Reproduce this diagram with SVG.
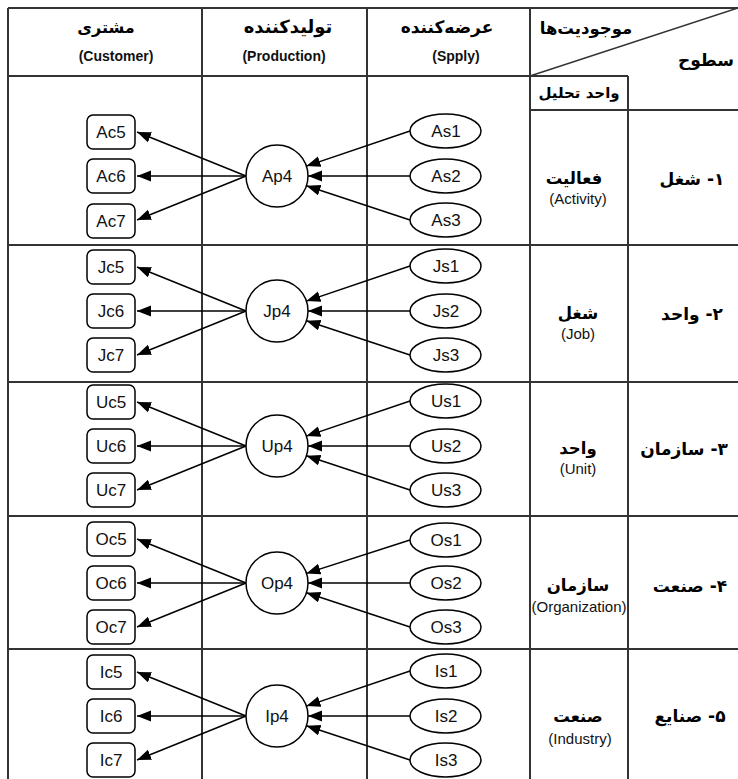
<svg xmlns="http://www.w3.org/2000/svg" width="738" height="779" viewBox="0 0 738 779">
<defs>
<style>
.grid{stroke:#333;stroke-width:2;fill:none}
.box{fill:#fff;stroke:#000;stroke-width:1.5}
.lbl{font-family:"Liberation Sans",Arial,sans-serif;font-size:17px;text-anchor:middle;fill:#111}
.fa{font-family:"DejaVu Sans","Noto Sans",sans-serif;font-weight:bold;text-anchor:middle;fill:#000}
.en{font-family:"Liberation Sans",Arial,sans-serif;text-anchor:middle;fill:#111}
.edge{stroke:#000;stroke-width:1.5;fill:none;marker-end:url(#ah)}
</style>
<marker id="ah" markerUnits="userSpaceOnUse" markerWidth="15" markerHeight="12" refX="14" refY="5.5" orient="auto">
<path d="M0,0 L14,5.5 L0,11 Z" fill="#000"/>
</marker>
</defs>
<rect width="738" height="779" fill="#fff"/>
<g id="table">
<line class="grid" x1="8" y1="8" x2="738" y2="8"/>
<line class="grid" x1="8" y1="8" x2="8" y2="779"/>
<line class="grid" x1="202" y1="8" x2="202" y2="779"/>
<line class="grid" x1="367" y1="8" x2="367" y2="779"/>
<line class="grid" x1="530" y1="8" x2="530" y2="779"/>
<line class="grid" x1="628" y1="76" x2="628" y2="779"/>
<line class="grid" x1="8" y1="76" x2="628" y2="76"/>
<line class="grid" x1="530" y1="110" x2="738" y2="110"/>
<line class="grid" x1="530" y1="76" x2="738" y2="8" style="stroke-width:1.5"/>
<line class="grid" x1="8" y1="245" x2="738" y2="245"/>
<line class="grid" x1="8" y1="382" x2="738" y2="382"/>
<line class="grid" x1="8" y1="516" x2="738" y2="516"/>
<line class="grid" x1="8" y1="649" x2="738" y2="649"/>
</g>
<g id="headers">
<text class="fa" x="106" y="33" font-size="16" direction="rtl">مشتری</text>
<text class="en" x="116" y="61" font-size="14" font-weight="bold">(Customer)</text>
<text class="fa" x="288" y="33" font-size="18" direction="rtl">تولیدکننده</text>
<text class="en" x="284" y="61" font-size="14" font-weight="bold">(Production)</text>
<text class="fa" x="447" y="33" font-size="17" direction="rtl">عرضه‌کننده</text>
<text class="en" x="456" y="61" font-size="14" font-weight="bold">(Spply)</text>
<text class="fa" x="586" y="34" font-size="16.5" direction="rtl">موجودیت‌ها</text>
<text class="fa" x="706" y="66" font-size="17" direction="rtl">سطوح</text>
<text class="fa" x="579" y="98" font-size="15" direction="rtl">واحد تحلیل</text>
</g>
<g id="row-labels">
<text class="fa" x="574" y="184" font-size="16.5" direction="rtl">فعالیت</text>
<text class="en" x="578" y="204" font-size="15">(Activity)</text>
<text class="fa" x="692" y="185" font-size="17" direction="rtl">۱- شغل</text>
<text class="fa" x="578" y="319" font-size="16.5" direction="rtl">شغل</text>
<text class="en" x="578" y="339" font-size="15">(Job)</text>
<text class="fa" x="692" y="320" font-size="17" direction="rtl">۲- واحد</text>
<text class="fa" x="578" y="454" font-size="16.5" direction="rtl">واحد</text>
<text class="en" x="578" y="474" font-size="15">(Unit)</text>
<text class="fa" x="684" y="455" font-size="17" direction="rtl">۳- سازمان</text>
<text class="fa" x="578" y="591" font-size="16.5" direction="rtl">سازمان</text>
<text class="en" x="579" y="612" font-size="15">(Organization)</text>
<text class="fa" x="690" y="592" font-size="17" direction="rtl">۴- صنعت</text>
<text class="fa" x="578" y="722" font-size="16.5" direction="rtl">صنعت</text>
<text class="en" x="580" y="744" font-size="15">(Industry)</text>
<text class="fa" x="690" y="722" font-size="17" direction="rtl">۵- صنایع</text>
</g>
<g id="connectors">
<line class="edge" x1="246" y1="176" x2="137" y2="132"/>
<line class="edge" x1="246" y1="176" x2="137" y2="176"/>
<line class="edge" x1="246" y1="176" x2="137" y2="220"/>
<line class="edge" x1="410" y1="131" x2="306.4" y2="166.1"/>
<line class="edge" x1="410" y1="176" x2="308" y2="176"/>
<line class="edge" x1="410" y1="220" x2="306.4" y2="185.7"/>
<line class="edge" x1="246" y1="311" x2="137" y2="267"/>
<line class="edge" x1="246" y1="311" x2="137" y2="311"/>
<line class="edge" x1="246" y1="311" x2="137" y2="355"/>
<line class="edge" x1="410" y1="266" x2="306.4" y2="301.1"/>
<line class="edge" x1="410" y1="311" x2="308" y2="311"/>
<line class="edge" x1="410" y1="355" x2="306.4" y2="320.7"/>
<line class="edge" x1="246" y1="446" x2="137" y2="402"/>
<line class="edge" x1="246" y1="446" x2="137" y2="446"/>
<line class="edge" x1="246" y1="446" x2="137" y2="490"/>
<line class="edge" x1="410" y1="401" x2="306.4" y2="436.1"/>
<line class="edge" x1="410" y1="446" x2="308" y2="446"/>
<line class="edge" x1="410" y1="490" x2="306.4" y2="455.7"/>
<line class="edge" x1="246" y1="583" x2="137" y2="539"/>
<line class="edge" x1="246" y1="583" x2="137" y2="583"/>
<line class="edge" x1="246" y1="583" x2="137" y2="627"/>
<line class="edge" x1="410" y1="540" x2="306.4" y2="573.4"/>
<line class="edge" x1="410" y1="583" x2="308" y2="583"/>
<line class="edge" x1="410" y1="627" x2="306.4" y2="592.7"/>
<line class="edge" x1="246" y1="716" x2="137" y2="672"/>
<line class="edge" x1="246" y1="716" x2="137" y2="716"/>
<line class="edge" x1="246" y1="716" x2="137" y2="760"/>
<line class="edge" x1="410" y1="671" x2="306.4" y2="706.1"/>
<line class="edge" x1="410" y1="716" x2="308" y2="716"/>
<line class="edge" x1="410" y1="760" x2="306.4" y2="725.7"/>
</g>
<g id="Ac5"><rect class="box" x="87" y="115" width="48" height="34" rx="6"/><text class="lbl" x="111" y="138">Ac5</text></g>
<g id="Ac6"><rect class="box" x="87" y="159" width="48" height="34" rx="6"/><text class="lbl" x="111" y="182">Ac6</text></g>
<g id="Ac7"><rect class="box" x="87" y="204" width="48" height="34" rx="6"/><text class="lbl" x="111" y="227">Ac7</text></g>
<g id="Ap4"><circle class="box" cx="277" cy="176" r="31"/><text class="lbl" x="277" y="182">Ap4</text></g>
<g id="As1"><ellipse class="box" cx="445.5" cy="131" rx="35.5" ry="17"/><text class="lbl" x="446" y="137">As1</text></g>
<g id="As2"><ellipse class="box" cx="445.5" cy="176" rx="35.5" ry="17"/><text class="lbl" x="446" y="182">As2</text></g>
<g id="As3"><ellipse class="box" cx="445.5" cy="220" rx="35.5" ry="17"/><text class="lbl" x="446" y="226">As3</text></g>
<g id="Jc5"><rect class="box" x="87" y="250" width="48" height="34" rx="6"/><text class="lbl" x="111" y="273">Jc5</text></g>
<g id="Jc6"><rect class="box" x="87" y="294" width="48" height="34" rx="6"/><text class="lbl" x="111" y="317">Jc6</text></g>
<g id="Jc7"><rect class="box" x="87" y="338" width="48" height="34" rx="6"/><text class="lbl" x="111" y="361">Jc7</text></g>
<g id="Jp4"><circle class="box" cx="277" cy="311" r="31"/><text class="lbl" x="277" y="317">Jp4</text></g>
<g id="Js1"><ellipse class="box" cx="445.5" cy="266" rx="35.5" ry="17"/><text class="lbl" x="446" y="272">Js1</text></g>
<g id="Js2"><ellipse class="box" cx="445.5" cy="311" rx="35.5" ry="17"/><text class="lbl" x="446" y="317">Js2</text></g>
<g id="Js3"><ellipse class="box" cx="445.5" cy="355" rx="35.5" ry="17"/><text class="lbl" x="446" y="361">Js3</text></g>
<g id="Uc5"><rect class="box" x="87" y="385" width="48" height="34" rx="6"/><text class="lbl" x="111" y="408">Uc5</text></g>
<g id="Uc6"><rect class="box" x="87" y="429" width="48" height="34" rx="6"/><text class="lbl" x="111" y="452">Uc6</text></g>
<g id="Uc7"><rect class="box" x="87" y="473" width="48" height="34" rx="6"/><text class="lbl" x="111" y="496">Uc7</text></g>
<g id="Up4"><circle class="box" cx="277" cy="446" r="31"/><text class="lbl" x="277" y="452">Up4</text></g>
<g id="Us1"><ellipse class="box" cx="445.5" cy="401" rx="35.5" ry="17"/><text class="lbl" x="446" y="407">Us1</text></g>
<g id="Us2"><ellipse class="box" cx="445.5" cy="446" rx="35.5" ry="17"/><text class="lbl" x="446" y="452">Us2</text></g>
<g id="Us3"><ellipse class="box" cx="445.5" cy="490" rx="35.5" ry="17"/><text class="lbl" x="446" y="496">Us3</text></g>
<g id="Oc5"><rect class="box" x="87" y="522" width="48" height="34" rx="6"/><text class="lbl" x="111" y="545">Oc5</text></g>
<g id="Oc6"><rect class="box" x="87" y="566" width="48" height="34" rx="6"/><text class="lbl" x="111" y="589">Oc6</text></g>
<g id="Oc7"><rect class="box" x="87" y="610" width="48" height="34" rx="6"/><text class="lbl" x="111" y="633">Oc7</text></g>
<g id="Op4"><circle class="box" cx="277" cy="583" r="31"/><text class="lbl" x="277" y="589">Op4</text></g>
<g id="Os1"><ellipse class="box" cx="445.5" cy="540" rx="35.5" ry="17"/><text class="lbl" x="446" y="546">Os1</text></g>
<g id="Os2"><ellipse class="box" cx="445.5" cy="583" rx="35.5" ry="17"/><text class="lbl" x="446" y="589">Os2</text></g>
<g id="Os3"><ellipse class="box" cx="445.5" cy="627" rx="35.5" ry="17"/><text class="lbl" x="446" y="633">Os3</text></g>
<g id="Ic5"><rect class="box" x="87" y="655" width="48" height="34" rx="6"/><text class="lbl" x="111" y="678">Ic5</text></g>
<g id="Ic6"><rect class="box" x="87" y="699" width="48" height="34" rx="6"/><text class="lbl" x="111" y="722">Ic6</text></g>
<g id="Ic7"><rect class="box" x="87" y="743" width="48" height="34" rx="6"/><text class="lbl" x="111" y="766">Ic7</text></g>
<g id="Ip4"><circle class="box" cx="277" cy="716" r="31"/><text class="lbl" x="277" y="722">Ip4</text></g>
<g id="Is1"><ellipse class="box" cx="445.5" cy="671" rx="35.5" ry="17"/><text class="lbl" x="446" y="677">Is1</text></g>
<g id="Is2"><ellipse class="box" cx="445.5" cy="716" rx="35.5" ry="17"/><text class="lbl" x="446" y="722">Is2</text></g>
<g id="Is3"><ellipse class="box" cx="445.5" cy="760" rx="35.5" ry="17"/><text class="lbl" x="446" y="766">Is3</text></g>
</svg>
